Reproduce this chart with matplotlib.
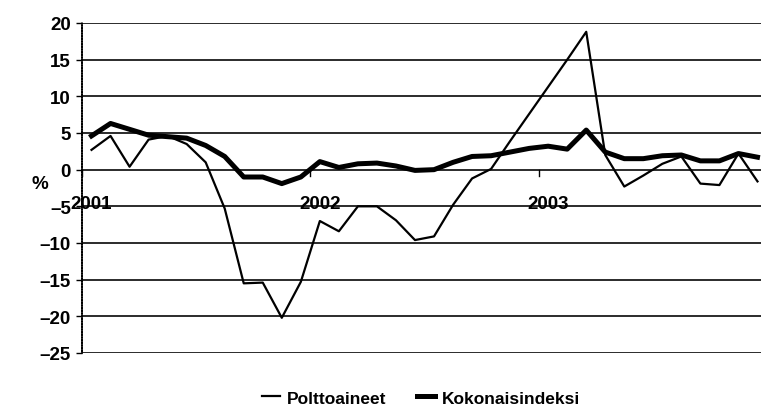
import matplotlib.pyplot as plt
import numpy as np

# monthly change, %, Jan 2001 - Dec 2003
polttoaineet = [2.7, 4.6, 0.4, 4.1, 4.6, 3.5, 1.0, -5.3, -15.5, -15.4, -20.2, -15.3,
                -7.0, -8.4, -5.0, -5.0, -6.9, -9.6, -9.1, -4.8, -1.2, 0.1,
                3.9, 7.6, 11.3, 15.0, 18.8, 2.0, -2.3, -0.8, 0.8, 1.8,
                -1.9, -2.1, 2.2, -1.6]
kokonaisindeksi = [4.6, 6.3, 5.5, 4.7, 4.5, 4.3, 3.3, 1.8, -1.0, -1.0, -1.9, -1.0,
                   1.1, 0.3, 0.8, 0.9, 0.5, -0.1, 0.0, 1.0, 1.8, 1.9,
                   2.4, 2.9, 3.2, 2.8, 5.4, 2.4, 1.5, 1.5, 1.9, 2.0,
                   1.2, 1.2, 2.2, 1.7]
years = ['2001', '2002', '2003']
year_start = [0, 12, 24]
yticks = [20, 15, 10, 5, 0, -5, -10, -15, -20, -25]

plt.rcParams['font.family'] = ['Liberation Sans', 'DejaVu Sans']
plt.rcParams['font.weight'] = 'bold'

fig = plt.figure(figsize=(7.61, 4.10), dpi=100)
ax = fig.add_axes([82 / 761, 56 / 410, 685 / 761, 330 / 410])

x = np.arange(len(polttoaineet))
for v in yticks:
    ax.axhline(v, color='#1a1a1a', lw=1.3, zorder=1)

l1, = ax.plot(x, polttoaineet, color='black', lw=1.6, zorder=3)
l2, = ax.plot(x, kokonaisindeksi, color='black', lw=3.6, zorder=4,
              solid_joinstyle='round')

ax.set_xlim(-0.5, len(x) - 0.5)
ax.set_ylim(-25, 20)
ax.set_yticks(yticks)
ax.set_yticklabels([str(v).replace('-', '\u2013') for v in yticks], fontsize=13.5)
ax.tick_params(axis='y', length=4, width=1, pad=4)
ax.set_xticks([])
for s in ['top', 'right', 'bottom']:
    ax.spines[s].set_visible(False)
ax.spines['left'].set_linestyle((0, (1, 0.6)))
ax.spines['left'].set_linewidth(1.2)

# year ticks on the zero line
for xs in [-0.5, 11.5, 23.5, 35.5]:
    ax.plot([xs, xs], [0, -0.8], color='black', lw=1, zorder=2)
for lab, xs in zip(years, year_start):
    ax.text(xs, -4.6, lab, ha='center', va='center', fontsize=13.5, zorder=5)

fig.text(40 / 761, 1 - 185 / 410, '%', ha='center', va='center', fontsize=13.5)

fig.legend([l1, l2], ['Polttoaineet', 'Kokonaisindeksi'], loc='center',
           bbox_to_anchor=(421 / 761, 1 - 399 / 410), ncol=2, frameon=False,
           fontsize=12.5, handlelength=1.0, handletextpad=0.4, columnspacing=1.8)

fig.savefig('out.png', dpi=100)
